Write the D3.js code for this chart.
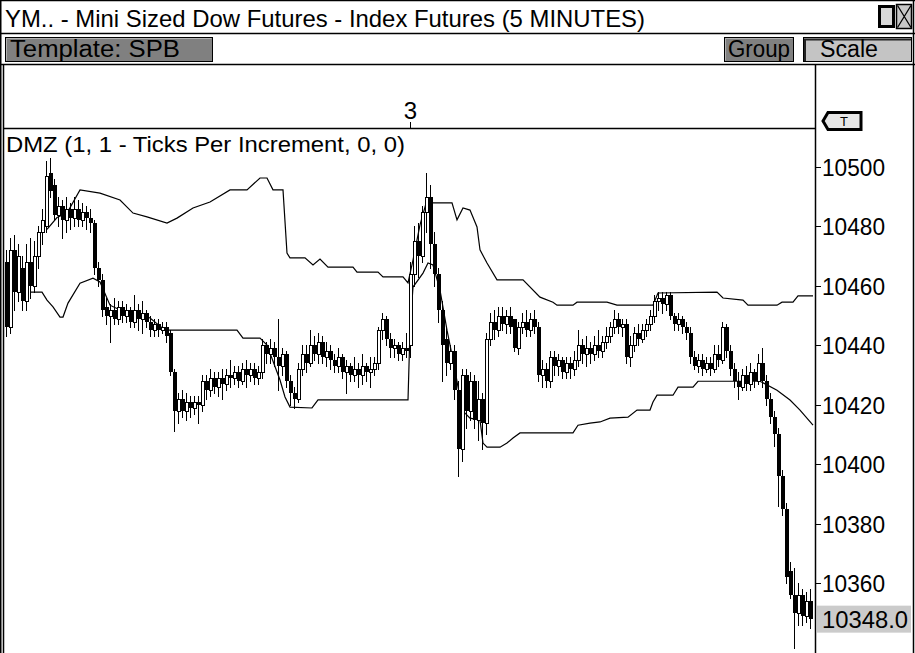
<!DOCTYPE html>
<html>
<head>
<meta charset="utf-8">
<script src="https://cdn.jsdelivr.net/npm/d3@7/dist/d3.min.js"></script>
<style>
  body { margin: 0; background: #fff; overflow: hidden; }
  svg { display: block; font-family: "Liberation Sans Narrow", "Liberation Sans", Arial, sans-serif; }
</style>
</head>
<body>
<svg id="svg"></svg>
<script>
// Chart texts
const title = "YM.. - Mini Sized Dow Futures - Index Futures (5 MINUTES)"
const studyLabel = "DMZ (1, 1 - Ticks Per Increment, 0, 0)"
const lastPrice = 10348.0

// Price axis ticks
const priceTicks = [10500, 10480, 10460, 10440, 10420, 10400, 10380, 10360]

// Time axis labels: [bar index, label]
const timeLabels = [[101, "3"]]

// 5 minute bars: [open, high, low, close]
const bars = [
  [10468,10472,10443,10446],[10446,10476,10444,10472],[10472,10477,10452,10458],[10458,10474,10455,10470],
  [10466,10470,10452,10455],[10455,10474,10452,10468],[10468,10476,10456,10460],[10460,10475,10458,10470],
  [10470,10480,10466,10478],[10478,10486,10474,10482],[10480,10502,10478,10497],[10498,10503,10490,10492],
  [10494,10496,10482,10484],[10484,10490,10480,10487],[10487,10489,10476,10482],[10482,10490,10478,10486],
  [10486,10488,10479,10483],[10483,10490,10480,10486],[10486,10489,10480,10482],[10482,10488,10480,10485],
  [10485,10487,10479,10483],[10483,10486,10478,10481],[10481,10482,10464,10466],[10466,10468,10460,10462],
  [10462,10464,10450,10452],[10453,10456,10447,10450],[10450,10454,10441,10452],[10452,10456,10447,10449],
  [10449,10455,10447,10453],[10453,10455,10448,10450],[10450,10454,10448,10452],[10452,10453,10446,10448],
  [10448,10457,10446,10452],[10452,10454,10445,10449],[10449,10455,10444,10451],[10451,10452,10446,10448],
  [10448,10450,10443,10445],[10445,10449,10443,10447],[10447,10449,10443,10445],[10445,10448,10444,10446],
  [10446,10448,10441,10443],[10444,10445,10430,10431],[10431,10432,10411,10418],[10418,10424,10414,10422],
  [10422,10425,10416,10418],[10418,10424,10415,10421],[10421,10423,10416,10419],[10419,10423,10417,10421],
  [10421,10423,10414,10420],[10420,10430,10418,10428],[10428,10430,10422,10425],[10425,10432,10423,10429],
  [10429,10431,10424,10426],[10426,10431,10423,10429],[10429,10432,10422,10427],[10427,10432,10425,10430],
  [10430,10435,10426,10429],[10429,10433,10427,10431],[10431,10433,10426,10428],[10428,10434,10427,10432],
  [10432,10435,10426,10430],[10430,10434,10428,10432],[10432,10434,10427,10429],[10429,10433,10427,10431],
  [10431,10442,10429,10440],[10440,10441,10434,10437],[10437,10442,10434,10439],[10439,10441,10433,10436],
  [10436,10449,10425,10433],[10433,10439,10430,10437],[10437,10438,10426,10428],[10428,10430,10420,10424],
  [10424,10426,10419,10422],[10422,10434,10421,10432],[10432,10440,10430,10437],[10437,10440,10431,10434],
  [10434,10445,10433,10440],[10440,10443,10435,10437],[10437,10444,10434,10441],[10441,10443,10434,10436],
  [10436,10441,10433,10438],[10438,10440,10432,10435],[10435,10437,10431,10433],[10433,10439,10431,10436],
  [10436,10437,10429,10431],[10431,10435,10424,10433],[10433,10434,10428,10430],[10430,10436,10428,10432],
  [10432,10434,10426,10430],[10430,10437,10427,10433],[10433,10434,10428,10431],[10431,10436,10426,10432],
  [10432,10436,10430,10434],[10434,10446,10432,10445],[10445,10451,10442,10449],[10449,10450,10440,10442],
  [10442,10444,10436,10439],[10439,10442,10436,10440],[10440,10441,10435,10437],[10437,10441,10435,10439],
  [10439,10444,10436,10438],[10440,10468,10436,10464],[10464,10480,10460,10475],[10475,10481,10463,10470],
  [10470,10487,10468,10485],[10485,10498,10478,10490],[10490,10494,10466,10474],[10474,10478,10460,10464],
  [10464,10466,10448,10452],[10452,10455,10428,10440],[10442,10446,10430,10434],[10434,10440,10432,10438],
  [10438,10440,10422,10425],[10425,10428,10396,10405],[10405,10432,10401,10430],[10430,10432,10412,10418],
  [10418,10431,10415,10428],[10428,10430,10412,10415],[10415,10428,10408,10422],[10422,10424,10405,10414],
  [10414,10444,10410,10442],[10442,10451,10440,10448],[10448,10452,10442,10445],[10445,10453,10443,10450],
  [10450,10453,10445,10447],[10447,10452,10444,10450],[10450,10453,10444,10446],[10449,10449,10438,10439],
  [10439,10448,10437,10446],[10446,10451,10444,10448],[10448,10452,10443,10445],[10445,10451,10443,10449],
  [10449,10452,10444,10446],[10446,10448,10428,10430],[10430,10435,10426,10432],[10432,10434,10426,10428],
  [10428,10438,10426,10436],[10436,10438,10430,10433],[10433,10437,10430,10435],[10435,10436,10429,10431],
  [10431,10436,10429,10434],[10434,10436,10429,10432],[10432,10438,10430,10435],[10435,10445,10433,10440],
  [10440,10442,10434,10437],[10437,10443,10433,10439],[10439,10441,10434,10437],[10437,10443,10435,10440],
  [10440,10445,10436,10438],[10438,10443,10436,10441],[10441,10446,10439,10443],[10443,10448,10441,10446],
  [10446,10452,10444,10449],[10449,10451,10444,10446],[10446,10449,10443,10447],[10447,10449,10434,10436],
  [10436,10443,10433,10440],[10440,10446,10438,10444],[10444,10447,10440,10442],[10442,10447,10441,10445],
  [10445,10449,10443,10447],[10447,10452,10445,10450],[10450,10457,10448,10455],[10455,10458,10452,10456],
  [10456,10458,10451,10454],[10454,10458,10452,10457],[10457,10458,10449,10450],[10450,10451,10445,10447],
  [10447,10451,10445,10449],[10449,10450,10444,10446],[10446,10448,10442,10444],[10444,10446,10434,10436],
  [10436,10438,10432,10433],[10433,10437,10431,10435],[10435,10437,10430,10432],[10432,10436,10431,10434],
  [10434,10436,10430,10432],[10432,10440,10431,10437],[10437,10440,10433,10435],[10435,10448,10434,10446],
  [10446,10447,10436,10438],[10438,10440,10430,10432],[10432,10434,10426,10428],[10428,10431,10422,10426],
  [10426,10432,10425,10430],[10430,10433,10425,10427],[10427,10434,10425,10431],[10431,10432,10426,10428],
  [10428,10437,10427,10434],[10434,10439,10426,10428],[10428,10430,10420,10422],[10422,10424,10414,10416],
  [10416,10418,10406,10410],[10410,10412,10386,10396],[10396,10398,10383,10385],[10385,10387,10360,10362],
  [10364,10367,10355,10356],[10356,10365,10338,10350],[10350,10360,10346,10356],[10356,10358,10346,10349],
  [10349,10357,10347,10354],[10354,10358,10345,10348]
]

// DMZ bands: [bar index, price]
const upperBand = [
  [10.25,10479],[12.75,10483],[15.25,10484.5],[18.5,10492.3],[23.5,10491.2],[28.5,10488.9],[31.75,10484.5],
  [35.25,10483.2],[40.25,10481.1],[42.75,10482.8],[46.75,10486.2],[51,10488.2],[56,10492.3],[60.25,10492.3],
  [63.5,10496.3],[65.25,10496.3],[66.75,10492.3],[69.25,10492.3],[70.25,10471],[71,10469.4],[74.75,10469.4],
  [76.75,10467],[78.5,10469],[80.5,10466.3],[86.75,10466.3],[87.75,10464.6],[93,10464.6],[94.25,10463],
  [99.25,10463],[100.5,10461],[101.75,10468.7],[103.5,10480.5],[105.25,10488.9],[106.75,10487.9],[111.5,10487.9],
  [112.75,10482.2],[114.25,10486.2],[116,10485.5],[117.75,10479.8],[118.5,10472.1],[120.25,10467.7],[122.75,10462],
  [129.25,10462],[133.5,10456.2],[136.75,10454.5],[137.75,10453.5],[141.75,10453.5],[142.75,10454.5],[147.75,10454.5],
  [150.25,10454.5],[152.75,10453.5],[161.75,10453.5],[163,10457.6],[177.75,10457.9],[179.25,10455.9],[184.25,10455.2],
  [185.5,10453.5],[192.75,10453.5],[194,10454.5],[196.75,10454.5],[198,10456.6],[201.75,10456.6]
]
const lowerBand = [
  [6,10457.9],[9,10457.9],[10.25,10455.2],[11.75,10452.9],[13.5,10449.5],[14.25,10449.5],[15.5,10454.2],
  [18.5,10460.9],[21.75,10462.6],[23.5,10461.3],[26,10453.5],[28.5,10451.9],[32.25,10451.2],[36,10449.2],
  [39.75,10445.1],[57.75,10445.1],[59.25,10442.4],[63.5,10442.4],[65.25,10440.1],[68.5,10428.3],[69.75,10422.6],
  [71,10419.2],[76.5,10418.9],[78,10421.6],[100.5,10421.6],[101,10445.1],[101.75,10459.6],[104.25,10464.3],
  [105.5,10467.7],[106.75,10467],[108.5,10458.6],[110.25,10445.1],[112.25,10431.7],[114,10418.2],[116,10415.5],
  [118.5,10414.8],[119.25,10407.1],[120.25,10405.7],[123.5,10405.7],[125.25,10407.1],[126.75,10408.8],[128.5,10410.5],
  [141.75,10410.5],[143,10413.1],[146,10413.8],[148.5,10414.2],[151,10415.5],[155.5,10415.8],[157.75,10418.2],
  [161,10418.2],[161.75,10420.9],[162.75,10423.2],[166.75,10423.2],[168,10425.9],[171.75,10425.9],[173,10427.9],
  [188.5,10427.9],[192.75,10424.9],[196,10421.6],[198.5,10418.2],[201.75,10413.1]
]

const W = 915, H = 653
const plotLeft = 4, plotRight = 815, plotTop = 129, plotBottom = 653

const svg = d3.select("#svg")
    .attr("width", W)
    .attr("height", H)

const x = d3.scaleLinear()
    .domain([0, bars.length - 1])
    .range([6, 810])

const y = d3.scaleLinear()
    .domain([10360, 10500])
    .range([583, 167])

// window frame, title bar and toolbar
svg.append("rect").attr("x", 0).attr("y", 0).attr("width", W).attr("height", H).attr("fill", "#fff")

svg.append("text")
    .attr("x", 5).attr("y", 27)
    .attr("font-size", 24)
    .attr("textLength", 640).attr("lengthAdjust", "spacingAndGlyphs")
    .text(title)

const frameLines = [[0, 0.5, W, 0.5], [0, 33.5, W, 33.5], [0, 64.5, W, 64.5]]
frameLines.forEach(l => {
    svg.append("line").attr("x1", l[0]).attr("y1", l[1]).attr("x2", l[2]).attr("y2", l[3])
        .attr("stroke", "#000").attr("stroke-width", 1.5)
})
svg.append("line").attr("x1", 0.75).attr("y1", 0).attr("x2", 0.75).attr("y2", H)
    .attr("stroke", "#000").attr("stroke-width", 1.5)
svg.append("line").attr("x1", 913.5).attr("y1", 0).attr("x2", 913.5).attr("y2", H)
    .attr("stroke", "#000").attr("stroke-width", 1.5)

// title bar buttons (maximize, close)
svg.append("rect").attr("x", 879.5).attr("y", 6.5).attr("width", 14).attr("height", 20)
    .attr("fill", "#d8d8d8").attr("stroke", "#000").attr("stroke-width", 3)
svg.append("rect").attr("x", 896.5).attr("y", 4.5).attr("width", 15).attr("height", 24)
    .attr("fill", "#c8c8c8").attr("stroke", "#000").attr("stroke-width", 1.5)
svg.append("path").attr("d", "M897.5,5.5L911,27.5M911,5.5L897.5,27.5")
    .attr("stroke", "#000").attr("stroke-width", 1.3).attr("fill", "none")

function button(x0, w, label, fill, tx, tw, pressed) {
    const g = svg.append("g")
    g.append("rect").attr("x", x0 + 0.5).attr("y", 37.5).attr("width", w).attr("height", 24)
        .attr("fill", fill).attr("stroke", "#000").attr("stroke-width", 1)
    if (pressed) {
        g.append("path").attr("d", `M${x0 + 2},${61}V${39.5}H${x0 + w}`)
            .attr("stroke", "#222").attr("stroke-width", 2).attr("fill", "none")
    } else {
        g.append("path").attr("d", `M${x0 + 1.5},${60.5}V${38.5}H${x0 + w - 0.5}`)
            .attr("stroke", "#b0b0b0").attr("stroke-width", 1).attr("fill", "none")
    }
    g.append("text").attr("x", tx).attr("y", 57).attr("font-size", 23)
        .attr("textLength", tw).attr("lengthAdjust", "spacingAndGlyphs").text(label)
}
button(5, 207, "Template: SPB", "#808080", 10, 170, false)
button(724, 69, "Group", "#808080", 728, 62, false)
button(803, 108, "Scale", "#c4c4c4", 820, 58, true)

// time axis area
svg.append("line").attr("x1", plotLeft).attr("y1", 128.5).attr("x2", plotRight).attr("y2", 128.5)
    .attr("stroke", "#000").attr("stroke-width", 1.5)
timeLabels.forEach(t => {
    const tx = Math.round(x(t[0])) + 0.5
    svg.append("line").attr("x1", tx).attr("y1", 122).attr("x2", tx).attr("y2", 128)
        .attr("stroke", "#000")
    svg.append("text").attr("x", tx).attr("y", 119).attr("text-anchor", "middle")
        .attr("font-size", 24).text(t[1])
})

// plot borders
svg.append("line").attr("x1", 3.5).attr("y1", 64).attr("x2", 3.5).attr("y2", H)
    .attr("stroke", "#000").attr("stroke-width", 1.5)
svg.append("line").attr("x1", plotRight + 0.5).attr("y1", 64).attr("x2", plotRight + 0.5).attr("y2", H)
    .attr("stroke", "#000").attr("stroke-width", 1.5)

svg.append("defs").append("clipPath").attr("id", "plot")
    .append("rect").attr("x", plotLeft + 1).attr("y", plotTop + 1)
    .attr("width", plotRight - plotLeft - 1).attr("height", plotBottom - plotTop)

const plot = svg.append("g").attr("clip-path", "url(#plot)")

// DMZ bands
const bandLine = d3.line().x(d => x(d[0])).y(d => y(d[1]))
;[upperBand, lowerBand].forEach(b => {
    plot.append("path").attr("d", bandLine(b))
        .attr("fill", "none").attr("stroke", "#000").attr("stroke-width", 1.2)
})

// candles: hollow when close > open, filled otherwise
const up = d => d[3] > d[0]
const candle = plot.selectAll("g.candle").data(bars).join("g").attr("class", "candle")
candle.append("line")
    .attr("x1", (d, i) => Math.round(x(i)) + 0.5)
    .attr("x2", (d, i) => Math.round(x(i)) + 0.5)
    .attr("y1", d => Math.round(y(d[1])))
    .attr("y2", d => Math.round(y(d[2])) + 1)
    .attr("stroke", "#000").attr("stroke-width", 1)
candle.append("rect")
    .attr("x", (d, i) => Math.round(x(i)) - (up(d) ? 0.5 : 1))
    .attr("y", d => Math.round(y(Math.max(d[0], d[3]))) + (up(d) ? 0.5 : 0))
    .attr("width", d => up(d) ? 3 : 4)
    .attr("height", d => Math.max(1, Math.round(y(Math.min(d[0], d[3]))) - Math.round(y(Math.max(d[0], d[3])))))
    .attr("fill", d => up(d) ? "#fff" : "#000")
    .attr("stroke", d => up(d) ? "#000" : "none")
    .attr("stroke-width", 1)

// study label
svg.append("text").attr("x", 6).attr("y", 152).attr("font-size", 22)
    .attr("textLength", 399).attr("lengthAdjust", "spacingAndGlyphs")
    .text(studyLabel)

// price axis
const axisG = svg.append("g")
priceTicks.forEach(p => {
    const ty = Math.round(y(p)) + 0.5
    axisG.append("line").attr("x1", plotRight).attr("x2", plotRight + 6).attr("y1", ty).attr("y2", ty)
        .attr("stroke", "#000")
    axisG.append("text").attr("x", 822).attr("y", ty + 8.5).attr("font-size", 23)
        .attr("textLength", 63).attr("lengthAdjust", "spacingAndGlyphs")
        .text(d3.format("d")(p))
})

// last price box
const ly = y(lastPrice)
axisG.append("rect").attr("x", 817).attr("y", ly - 13).attr("width", 94).attr("height", 27)
    .attr("fill", "#cbcbcb")
axisG.append("text").attr("x", 822).attr("y", ly + 9).attr("font-size", 23)
    .attr("textLength", 86).attr("lengthAdjust", "spacingAndGlyphs")
    .text(d3.format(".1f")(lastPrice))

// T marker
svg.append("path").attr("d", "M823,121L828,112.5H861V129.5H828Z")
    .attr("fill", "#e6e6e6").attr("stroke", "#000").attr("stroke-width", 3).attr("stroke-linejoin", "miter")
svg.append("text").attr("x", 844).attr("y", 126).attr("text-anchor", "middle")
    .attr("font-size", 13).text("T")
</script>
</body>
</html>
